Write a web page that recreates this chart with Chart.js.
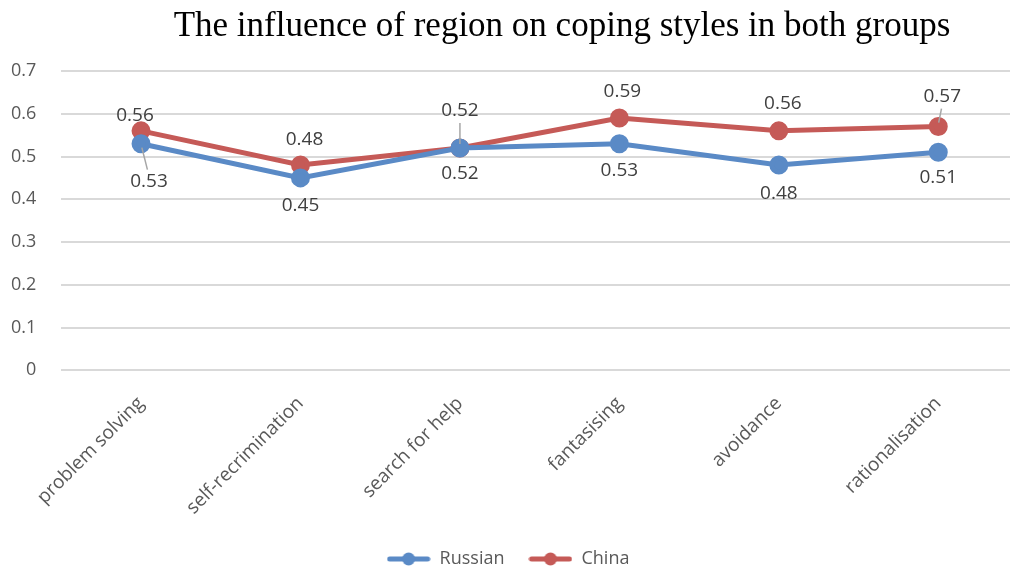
<!DOCTYPE html>
<html>
<head>
<meta charset="utf-8">
<script src="https://cdn.jsdelivr.net/npm/chart.js@4/dist/chart.umd.min.js"></script>
<style>
  html, body { margin: 0; padding: 0; background: #fff; overflow: hidden; }
  #wrap { width: 1030px; height: 571px; }
</style>
</head>
<body>
<div id="wrap"><canvas id="myChart"></canvas></div>
<script>
const categories = ['problem solving', 'self-recrimination', 'search for help', 'fantasising', 'avoidance', 'rationalisation'];
const russian = [0.53, 0.45, 0.52, 0.53, 0.48, 0.51];
const china = [0.56, 0.48, 0.52, 0.59, 0.56, 0.57];

const titleText = 'The influence of region on coping styles in both groups';

const blue = '#5a8ac6';
const red = '#c55a57';

// where each value label sits relative to its point [dx, dy], per dataset
const labelShift = [
  [[8, 38], [0, 28], [0, 26], [0, 27], [0, 29], [0, 25]],
  [[-6, -15], [4, -25], [0, -37], [3, -26], [4, -27], [4, -30]]
];

// legend marker: short line with a dot in the middle
function legendMarker(color) {
  const c = document.createElement('canvas');
  c.width = 44; c.height = 14;
  const g = c.getContext('2d');
  g.strokeStyle = color; g.lineWidth = 5; g.lineCap = 'round';
  g.beginPath(); g.moveTo(3, 7); g.lineTo(41, 7); g.stroke();
  g.fillStyle = color;
  g.beginPath(); g.arc(22, 7, 6.5, 0, Math.PI * 2); g.fill();
  return c;
}

// value labels with a small grey leader when they sit far from the point
const valueLabels = {
  id: 'valueLabels',
  afterDatasetsDraw(chart) {
    const ctx = chart.ctx;
    ctx.save();
    ctx.font = '19px "Open Sans", sans-serif';
    ctx.textAlign = 'center';
    ctx.textBaseline = 'middle';
    chart.data.datasets.forEach((ds, i) => {
      const meta = chart.getDatasetMeta(i);
      meta.data.forEach((pt, j) => {
        const [dx, dy] = labelShift[i][j];
        if (Math.abs(dy) > 29) {
          const s = Math.sign(dy);
          ctx.strokeStyle = '#a6a6a6';
          ctx.lineWidth = 1.5;
          ctx.beginPath();
          ctx.moveTo(pt.x + dx * 0.1, pt.y + s * 4);
          ctx.lineTo(pt.x + dx * 0.8, pt.y + dy - s * 12);
          ctx.stroke();
        }
        ctx.fillStyle = '#404040';
        ctx.fillText(ds.data[j].toFixed(2), pt.x + dx, pt.y + dy);
      });
    });
    ctx.restore();
  }
};

// title drawn by hand so it can sit a little right of centre like the original
const chartTitle = {
  id: 'chartTitle',
  afterDraw(chart) {
    const ctx = chart.ctx;
    ctx.save();
    ctx.font = '35px "Liberation Serif", "Times New Roman", serif';
    ctx.fillStyle = '#000';
    ctx.textAlign = 'center';
    ctx.textBaseline = 'alphabetic';
    ctx.fillText(titleText, 562, 36);
    ctx.restore();
  }
};

let ctx = document.getElementById('myChart').getContext('2d');

new Chart(ctx, {
  type: 'line',
  data: {
    labels: categories,
    datasets: [
      {
        label: 'Russian',
        data: russian,
        borderColor: blue,
        backgroundColor: blue,
        borderWidth: 5,
        pointRadius: 7,
        pointHoverRadius: 7
      },
      {
        label: 'China',
        data: china,
        borderColor: red,
        backgroundColor: red,
        borderWidth: 5,
        pointRadius: 7,
        pointHoverRadius: 7
      }
    ]
  },
  options: {
    responsive: true,
    maintainAspectRatio: false,
    animation: false,
    layout: { padding: { left: -14, right: 0, top: 71, bottom: -7 } },
    scales: {
      x: {
        offset: true,
        grid: { display: false, drawTicks: false },
        border: { display: false },
        ticks: {
          color: '#595959',
          font: { family: '"Open Sans", sans-serif', size: 19 },
          maxRotation: 45,
          minRotation: 45,
          padding: 22
        },
        afterFit: scale => { scale.height -= 15; }
      },
      y: {
        min: 0,
        max: 0.7,
        ticks: {
          stepSize: 0.1,
          color: '#595959',
          font: { family: '"Open Sans", sans-serif', size: 18 },
          padding: 25,
          callback: v => v === 0 ? '0' : v.toFixed(1)
        },
        grid: { color: '#d9d9d9', lineWidth: 2, drawTicks: false },
        border: { display: false }
      }
    },
    plugins: {
      title: { display: false },
      legend: {
        position: 'bottom',
        labels: {
          usePointStyle: true,
          pointStyleWidth: 44,
          color: '#595959',
          font: { family: '"Open Sans", sans-serif', size: 18 },
          padding: 24,
          generateLabels: chart => chart.data.datasets.map((ds, i) => ({
            text: ds.label,
            pointStyle: legendMarker(ds.borderColor),
            fontColor: '#595959',
            datasetIndex: i,
            hidden: false
          }))
        }
      },
      tooltip: { enabled: false }
    }
  },
  plugins: [valueLabels, chartTitle]
});
</script>
</body>
</html>
